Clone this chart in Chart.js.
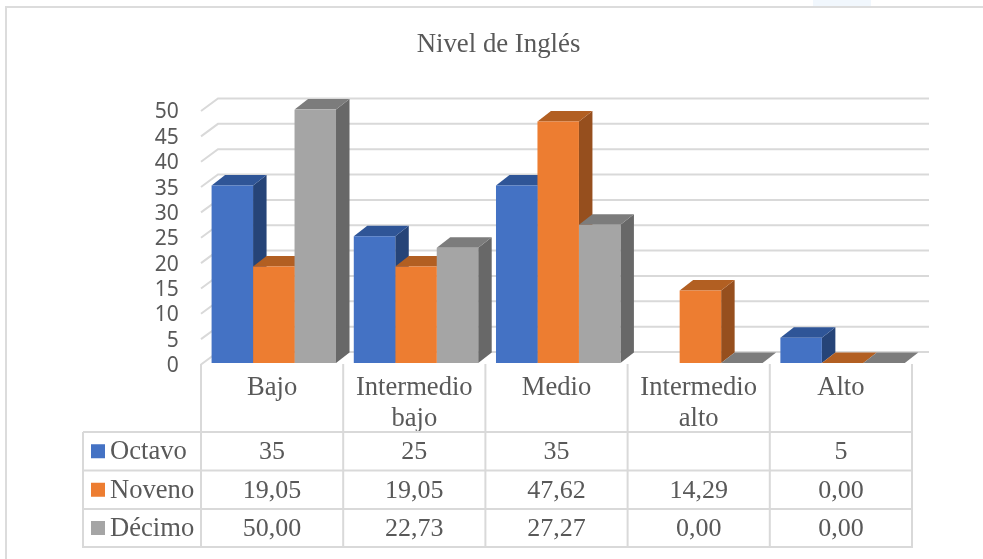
<!DOCTYPE html>
<html lang="es">
<head>
<meta charset="utf-8">
<title>Nivel de Inglés</title>
<script src="https://cdn.jsdelivr.net/npm/chart.js@4/dist/chart.umd.min.js"></script>
<style>
  html, body { margin: 0; padding: 0; background: #fff; overflow: hidden; }
  #wrap { position: relative; width: 983px; height: 559px; overflow: hidden; }
  #frame { position: absolute; left: 5px; top: 6px; width: 990px; height: 570px; border: 2px solid #dcdcdc; }
  #tab { position: absolute; left: 813px; top: 0; width: 58px; height: 6px; background: #f1f7fd; }
  canvas { position: absolute; left: 0; top: 0; }
</style>
</head>
<body>
<div id="wrap">
  <div id="tab"></div>
  <div id="frame"></div>
  <canvas id="chart" width="983" height="559"></canvas>
</div>
<script>
// Values per level of English, one list per school grade
const chartTitle = 'Nivel de Inglés';
const levels = [['Bajo'], ['Intermedio', 'bajo'], ['Medio'], ['Intermedio', 'alto'], ['Alto']];
const gradeNames = ['Octavo', 'Noveno', 'Décimo'];
const octavo = [35, 25, 35, null, 5];
const noveno = [19.05, 19.05, 47.62, 14.29, 0];
const decimo = [50, 22.73, 27.27, 0, 0];
const gradeDecimals = [0, 2, 2];
const yTicks = [0, 5, 10, 15, 20, 25, 30, 35, 40, 45, 50];

// Face colours of the extruded columns
const frontColors = ['#4472C4', '#ED7D31', '#A5A5A5'];
const topColors = ['#2F5597', '#B25F22', '#7C7C7C'];
const sideColors = ['#264478', '#964F1E', '#686868'];

const TEXT = '#595959';
const LINE = '#D9D9D9';
const SERIF = '"Liberation Serif", "Times New Roman", serif';
const BAR_DX = 13.5, BAR_DY = 10.5;
const WALL_DX = 17, WALL_DY = 11;
const COLUMN_SHIFT = 1.7;
const TABLE_LEFT = 83;
const ROW_LINES = [432, 470.5, 509, 547];
const VALUE_FONT = 26;
const LABEL_FONT = 26.6;

function poly(ctx, color, pts) {
  ctx.fillStyle = color;
  ctx.beginPath();
  pts.forEach((p, i) => i ? ctx.lineTo(p[0], p[1]) : ctx.moveTo(p[0], p[1]));
  ctx.closePath();
  ctx.fill();
}

function formatValue(v, decimals) {
  if (v === null) return '';
  return v.toFixed(decimals).replace('.', ',');
}

// Back wall grid, left wall ticks and the tops and sides of the columns
const depthPlugin = {
  id: 'depth',
  beforeDatasetsDraw(chart) {
    const { ctx, scales: { x, y } } = chart;
    const left = x.left - COLUMN_SHIFT;
    const right = x.right - COLUMN_SHIFT;
    ctx.save();
    ctx.strokeStyle = LINE;
    ctx.lineWidth = 2;
    yTicks.forEach(t => {
      const py = y.getPixelForValue(t);
      ctx.beginPath();
      ctx.moveTo(left, py + 1.5);
      ctx.lineTo(left + WALL_DX, py - WALL_DY);
      ctx.lineTo(right + WALL_DX, py - WALL_DY);
      ctx.stroke();
    });
    chart.data.datasets.forEach((ds, i) => {
      chart.getDatasetMeta(i).data.forEach((bar, j) => {
        if (ds.data[j] === null) return;
        const l = bar.x - bar.width / 2;
        const r = bar.x + bar.width / 2;
        poly(ctx, sideColors[i], [[r, bar.y], [r + BAR_DX, bar.y - BAR_DY], [r + BAR_DX, bar.base - BAR_DY], [r, bar.base]]);
        poly(ctx, topColors[i], [[l, bar.y], [l + BAR_DX, bar.y - BAR_DY], [r + BAR_DX, bar.y - BAR_DY], [r, bar.y]]);
      });
    });
    ctx.restore();
  },
  // Title, then the data table under the plot with the legend keys in its first column
  afterDraw(chart) {
    const { ctx, scales: { x, y } } = chart;
    const step = (x.right - x.left) / levels.length;
    const left = x.left - COLUMN_SHIFT;
    const right = x.right - COLUMN_SHIFT;
    const top = y.bottom + 1;
    ctx.save();
    ctx.textBaseline = 'middle';
    ctx.textAlign = 'center';
    ctx.fillStyle = TEXT;
    ctx.font = '26.8px ' + SERIF;
    ctx.fillText(chartTitle, 498.5, 44.5);

    ctx.strokeStyle = LINE;
    ctx.lineWidth = 2;
    ctx.beginPath();
    for (let c = 0; c <= levels.length; c++) {
      const px = left + step * c;
      ctx.moveTo(px, top);
      ctx.lineTo(px, ROW_LINES[3]);
    }
    ctx.moveTo(TABLE_LEFT, ROW_LINES[0]);
    ctx.lineTo(TABLE_LEFT, ROW_LINES[3] + 1);
    ROW_LINES.forEach(ry => {
      ctx.moveTo(TABLE_LEFT, ry);
      ctx.lineTo(right + 1, ry);
    });
    ctx.stroke();

    chart.data.datasets.forEach((ds, i) => {
      const cy = (ROW_LINES[i] + ROW_LINES[i + 1]) / 2;
      ctx.fillStyle = frontColors[i];
      ctx.fillRect(91, cy - 7, 14, 14);
      ctx.fillStyle = TEXT;
      ctx.textAlign = 'left';
      ctx.font = LABEL_FONT + 'px ' + SERIF;
      ctx.fillText(ds.label, 110, cy + 1);
      ctx.textAlign = 'center';
      ctx.font = VALUE_FONT + 'px ' + SERIF;
      ds.data.forEach((v, j) => {
        ctx.fillText(formatValue(v, gradeDecimals[i]), left + step * (j + 0.5), cy + 1);
      });
    });
    ctx.restore();
  }
};

new Chart(document.getElementById('chart'), {
  type: 'bar',
  data: {
    labels: levels,
    datasets: [octavo, noveno, decimo].map((values, i) => ({
      label: gradeNames[i],
      data: values,
      backgroundColor: frontColors[i],
      borderWidth: 0,
      categoryPercentage: 0.875,
      barPercentage: 1
    }))
  },
  options: {
    responsive: false,
    animation: false,
    layout: { padding: { left: 0, right: 69.3, top: 109.5, bottom: 0 } },
    plugins: {
      legend: { display: false },
      tooltip: { enabled: false },
      title: { display: false }
    },
    scales: {
      x: {
        grid: { display: false },
        border: { display: false },
        afterFit(scale) { scale.height = 196; },
        ticks: {
          color: TEXT,
          padding: 1,
          labelOffset: -COLUMN_SHIFT,
          maxRotation: 0,
          autoSkip: false,
          font: { family: SERIF, size: LABEL_FONT, lineHeight: 1.19 }
        }
      },
      y: {
        min: 0,
        max: 50,
        grid: { display: false, drawTicks: false },
        border: { display: false },
        afterFit(scale) { scale.width = 202.7; },
        afterBuildTicks(scale) { scale.ticks = yTicks.map(value => ({ value })); },
        ticks: {
          color: TEXT,
          padding: 24,
          autoSkip: false,
          labelOffset: 3,
          font: { family: '"Noto Sans"', size: 21 }
        }
      }
    }
  },
  plugins: [depthPlugin]
});
</script>
</body>
</html>
